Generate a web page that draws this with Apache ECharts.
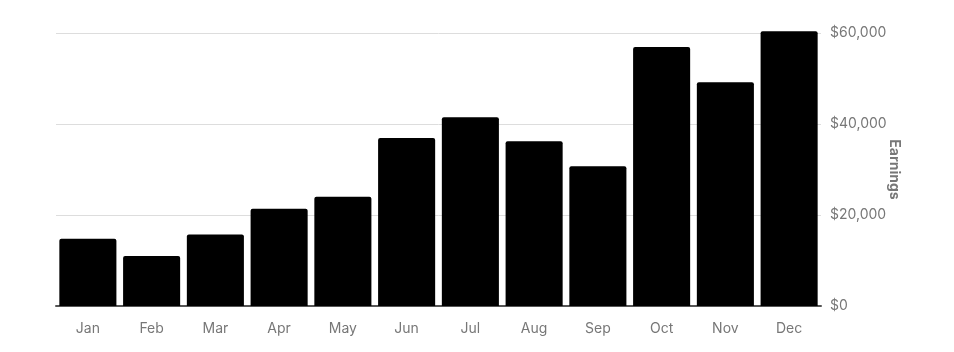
<!DOCTYPE html>
<html>
<head>
<meta charset="utf-8">
<title>Earnings</title>
<script src="https://cdn.jsdelivr.net/npm/echarts@6/dist/echarts.min.js"></script>
<style>
  html, body { margin: 0; padding: 0; background: #fff; }
  #chart { width: 954px; height: 352px; }
</style>
</head>
<body>
<div id="chart"></div>
<script>
// monthly earnings
var months = ['Jan', 'Feb', 'Mar', 'Apr', 'May', 'Jun', 'Jul', 'Aug', 'Sep', 'Oct', 'Nov', 'Dec'];
var earnings = [14800, 11000, 15700, 21400, 24000, 36900, 41500, 36200, 30700, 56900, 49200, 60400];
var yTicks = [0, 20000, 40000, 60000];

var chart = echarts.init(document.getElementById('chart'), null, { renderer: 'canvas' });

chart.setOption({
  animation: false,
  textStyle: { fontFamily: 'Inter, "Noto Sans", sans-serif' },
  grid: { left: 56, right: 133, top: 33, bottom: 46 },
  xAxis: {
    type: 'category',
    data: months,
    axisLine: { lineStyle: { color: '#555', width: 2 } },
    axisTick: { alignWithLabel: true, length: 6, lineStyle: { color: '#ddd' } },
    axisLabel: { color: '#777', fontSize: 14, margin: 16 }
  },
  yAxis: {
    type: 'value',
    position: 'right',
    min: yTicks[0],
    max: yTicks[yTicks.length - 1],
    interval: 20000,
    name: 'Earnings',
    nameLocation: 'middle',
    nameRotate: -90,
    nameGap: 66,
    nameMoveOverlap: false,
    nameTextStyle: { color: '#777', fontSize: 14, fontWeight: 'bold' },
    axisLine: { show: false },
    axisTick: { show: false },
    splitLine: { lineStyle: { color: '#ddd' } },
    axisLabel: {
      color: '#777',
      fontSize: 14,
      margin: 9,
      padding: [6, 0, 0, 0],
      formatter: function (v) { return '$' + v.toLocaleString('en-US'); }
    }
  },
  series: [{
    type: 'bar',
    data: earnings,
    clip: false,
    barCategoryGap: '10.5%',
    itemStyle: { color: '#000', borderRadius: [2, 2, 0, 0] }
  }]
});
</script>
</body>
</html>
